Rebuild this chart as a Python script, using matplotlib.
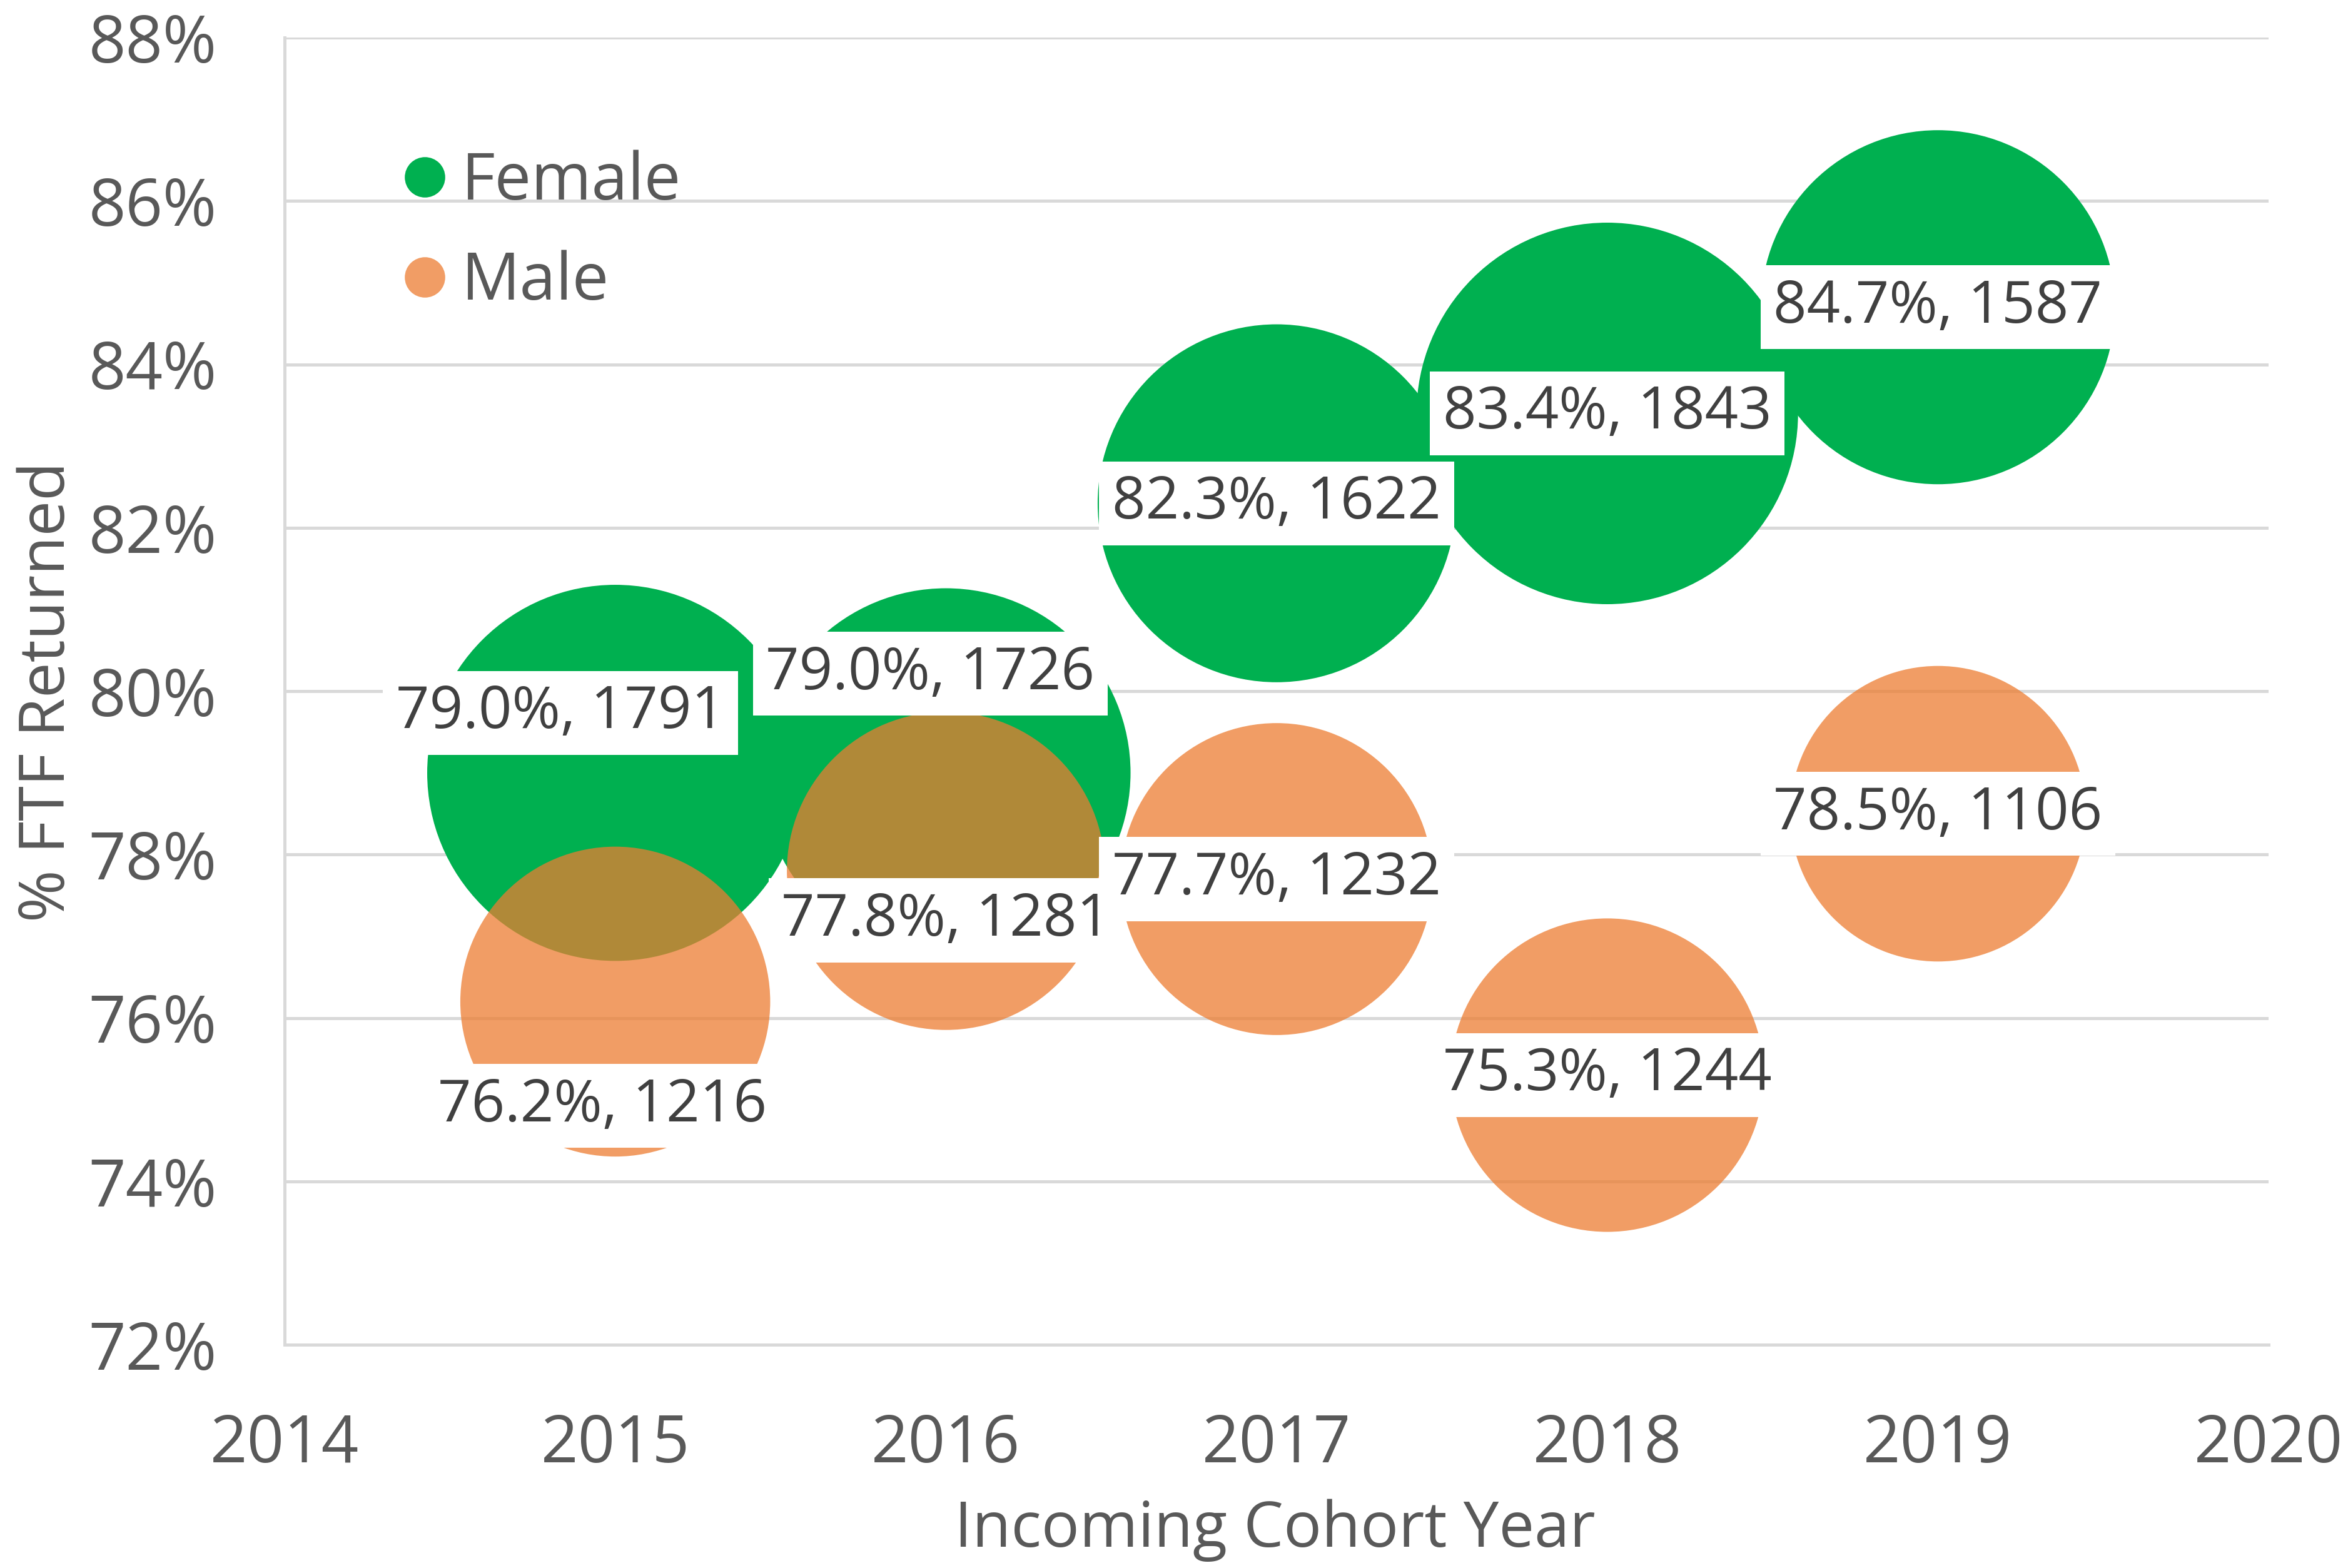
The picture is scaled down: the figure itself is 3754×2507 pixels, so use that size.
import matplotlib.pyplot as plt
from matplotlib.lines import Line2D

# data
years = [2015, 2016, 2017, 2018, 2019]
female_pct = [79.0, 79.0, 82.3, 83.4, 84.7]
female_n = [1791, 1726, 1622, 1843, 1587]
male_pct = [76.2, 77.8, 77.7, 75.3, 78.5]
male_n = [1216, 1281, 1232, 1244, 1106]

GREEN = '#00B050'
ORANGE = '#ED7D31'
TICK_COLOR = '#595959'
LABEL_COLOR = '#404040'
GRID_COLOR = '#D9D9D9'

plt.rcParams['font.family'] = ['Open Sans', 'DejaVu Sans']

DPI = 300
fig = plt.figure(figsize=(3754 / DPI, 2507 / DPI), dpi=DPI)
ax = fig.add_axes([0.1212, 0.1424, 0.8450, 0.8336])

# bubble area proportional to count, largest bubble ~610 px across
max_n = max(female_n + male_n)
max_diam_pt = 610 * 72 / DPI
def bubble_size(n):
    return [max_diam_pt ** 2 * v / max_n for v in n]

ax.scatter(years, female_pct, s=bubble_size(female_n), color=GREEN,
           linewidths=0, zorder=2)
ax.scatter(years, male_pct, s=bubble_size(male_n), color=ORANGE, alpha=0.75,
           linewidths=0, zorder=3)

# label offsets (points) where Excel moved labels off-centre
female_offsets = [(-21, 23), (-6, 38), (0, 0), (0, 0), (0, 0)]
male_offsets = [(-5, -40), (0, -19), (0, 0), (0, 0), (0, 0)]

box = dict(boxstyle='square,pad=0.22', facecolor='white', edgecolor='none')
for x, p, n, off in zip(years, female_pct, female_n, female_offsets):
    ax.annotate(f'{p:.1f}%, {n}', (x, p), xytext=off, textcoords='offset points',
                ha='center', va='center', fontsize=22.5, color=LABEL_COLOR,
                bbox=box, zorder=5)
for x, p, n, off in zip(years, male_pct, male_n, male_offsets):
    ax.annotate(f'{p:.1f}%, {n}', (x, p), xytext=off, textcoords='offset points',
                ha='center', va='center', fontsize=22.5, color=LABEL_COLOR,
                bbox=box, zorder=5)

ax.set_xlim(2014, 2020)
ax.set_ylim(72, 88)
ax.set_xticks(range(2014, 2021))
ax.set_yticks(range(72, 89, 2))
ax.set_yticklabels([f'{v}%' for v in range(72, 89, 2)])
ax.tick_params(axis='both', length=0, labelsize=25, colors=TICK_COLOR)
ax.tick_params(axis='y', pad=26)
ax.tick_params(axis='x', pad=26)

ax.grid(axis='y', color=GRID_COLOR, linewidth=1.2, zorder=0)
ax.set_axisbelow(True)
for side in ['top', 'right']:
    ax.spines[side].set_visible(False)
for side in ['left', 'bottom']:
    ax.spines[side].set_color(GRID_COLOR)
    ax.spines[side].set_linewidth(1.2)

# axis titles placed in figure coordinates
fig.text(0.5430, 1 - 2447 / 2507, 'Incoming Cohort Year', fontsize=24.3,
         color=TICK_COLOR, ha='center', va='center')
fig.text(77 / 3754, 1 - 1106 / 2507, '% FTF Returned', fontsize=24.3,
         color=TICK_COLOR, ha='center', va='center', rotation=90)

handles = [
    Line2D([], [], marker='o', linestyle='none', markersize=15.5,
           markerfacecolor=GREEN, markeredgewidth=0, label='Female'),
    Line2D([], [], marker='o', linestyle='none', markersize=15.5,
           markerfacecolor=ORANGE, alpha=0.75, markeredgewidth=0, label='Male'),
]
leg = ax.legend(handles=handles, loc='upper left', bbox_to_anchor=(0.0475, 0.934),
                frameon=False, fontsize=25, handlelength=0.6, handletextpad=0.27,
                labelspacing=0.53, borderaxespad=0)
for t in leg.get_texts():
    t.set_color(TICK_COLOR)

fig.savefig('out.png', dpi=DPI)
